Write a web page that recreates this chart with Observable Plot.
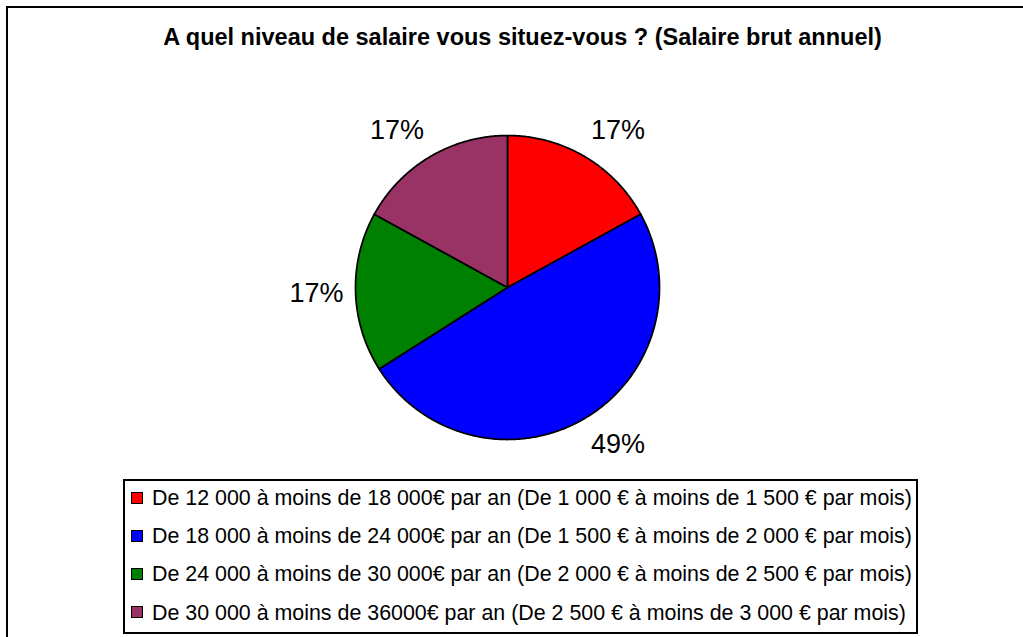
<!DOCTYPE html>
<html>
<head>
<meta charset="utf-8">
<script src="https://cdn.jsdelivr.net/npm/d3@7"></script>
<script src="https://cdn.jsdelivr.net/npm/@observablehq/plot@0.6"></script>
<style>
  html, body { margin: 0; padding: 0; background: #fff; }
  #wrap { position: relative; width: 1023px; height: 637px; overflow: hidden;
          font-family: "Liberation Sans", Arial, sans-serif; color: #000; }
  #frame { position: absolute; left: 6px; top: 6px; width: 1200px; height: 800px;
           border-left: 2px solid #000; border-top: 2px solid #000; }
  #chart { position: absolute; left: 0; top: 0; }
  #title { position: absolute; left: 0; top: 24px; width: 1045px; text-align: center;
           font-weight: bold; font-size: 23.5px; line-height: 27px; white-space: nowrap; }
  #legend { position: absolute; left: 123px; top: 479px; width: 795px; height: 155px;
            box-sizing: border-box; border: 2px solid #000; background: #fff; }
  .row { position: absolute; left: 0; height: 38px; line-height: 38px; font-size: 21.4px;
         white-space: nowrap; }
  .sw { position: absolute; top: 12.5px; left: 6px; width: 10px; height: 10px;
        border: 1.5px solid #000; }
  .lbl { position: absolute; left: 27px; top: 0; }
</style>
</head>
<body>
<div id="wrap">
  <div id="frame"></div>
  <div id="chart"></div>
  <div id="title"></div>
  <div id="legend"></div>
</div>
<script>
// ---- data ----
const title = "A quel niveau de salaire vous situez-vous ? (Salaire brut annuel)";
const categories = [
  "De 12 000 à moins de 18 000€ par an (De 1 000 € à moins de 1 500 € par mois)",
  "De 18 000 à moins de 24 000€ par an (De 1 500 € à moins de 2 000 € par mois)",
  "De 24 000 à moins de 30 000€ par an (De 2 000 € à moins de 2 500 € par mois)",
  "De 30 000 à moins de 36000€ par an (De 2 500 € à moins de 3 000 € par mois)"
];
const values = [17, 49, 17, 17];
const colors = ["#FF0000", "#0000FF", "#008000", "#993366"];

// ---- layout ----
const W = 1023, H = 637;
const cx = 507, cy = 287, R = 152;

// build slice outlines (unit circle coords, angle clockwise from top)
const total = d3.sum(values);
let acc = 0;
const slices = values.map((v, i) => {
  const a0 = acc / total * 2 * Math.PI;
  acc += v;
  const a1 = acc / total * 2 * Math.PI;
  return {category: categories[i], value: v, a0, a1};
});
const outline = [];
for (const s of slices) {
  outline.push({category: s.category, x: 0, y: 0});
  const n = Math.max(2, Math.ceil((s.a1 - s.a0) / (Math.PI / 360)));
  for (let k = 0; k <= n; k++) {
    const t = s.a0 + (s.a1 - s.a0) * k / n;
    outline.push({category: s.category, x: Math.sin(t), y: Math.cos(t)});
  }
  outline.push({category: s.category, x: 0, y: 0});
}

// percentage labels, placed outside the pie end
const fs = 27, hw = 27, hh = 16, gap = 12;
const clamp = v => Math.max(-1, Math.min(1, v));
const labels = slices.map(s => {
  const m = (s.a0 + s.a1) / 2;
  const sx = Math.sin(m), sy = Math.cos(m);
  return {
    text: d3.format(".0f")(s.value) + "%",
    x: (R + gap) / R * sx + hw / R * clamp(2 * sx),
    y: (R + gap) / R * sy + hh / R * clamp(2 * sy)
  };
});

const plot = Plot.plot({
  width: W,
  height: H,
  margin: 0,
  x: {domain: [-1, 1], range: [cx - R, cx + R], axis: null},
  y: {domain: [-1, 1], range: [cy + R, cy - R], axis: null},
  color: {domain: categories, range: colors},
  style: {background: "transparent", overflow: "visible"},
  marks: [
    Plot.line(outline, {x: "x", y: "y", z: "category", fill: "category",
      stroke: "#000", strokeWidth: 1.75, strokeLinejoin: "round", curve: "linear"}),
    Plot.text(labels, {x: "x", y: "y", text: "text", fontSize: fs,
      fontFamily: "Liberation Sans, Arial, sans-serif", fill: "#000",
      textAnchor: "middle", lineAnchor: "middle"})
  ]
});
document.getElementById("chart").appendChild(plot);

document.getElementById("title").textContent = title;

const legend = document.getElementById("legend");
categories.forEach((c, i) => {
  const row = document.createElement("div");
  row.className = "row";
  row.style.top = (-2 + i * 38.2) + "px";
  const sw = document.createElement("div");
  sw.className = "sw";
  sw.style.background = colors[i];
  const lb = document.createElement("div");
  lb.className = "lbl";
  lb.textContent = c;
  row.appendChild(sw);
  row.appendChild(lb);
  legend.appendChild(row);
});
</script>
</body>
</html>
